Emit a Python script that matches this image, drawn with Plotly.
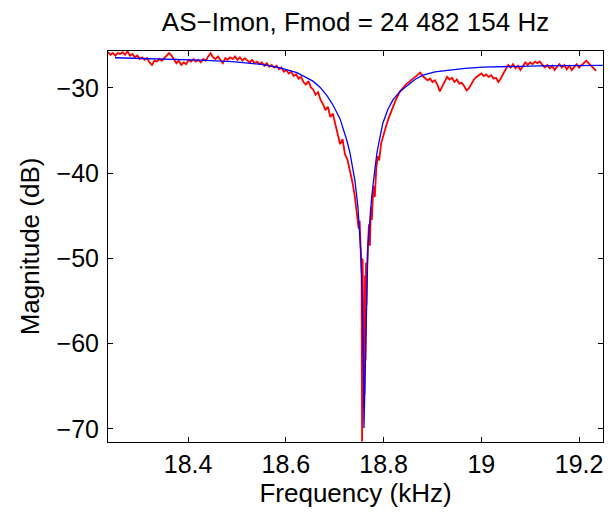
import plotly.graph_objects as go

# Measured response (red), frequency in kHz, magnitude in dB
red_freq = [
    18.236, 18.241, 18.246, 18.251, 18.256, 18.261, 18.266, 18.271, 18.276, 18.281,
    18.286, 18.291, 18.296, 18.301, 18.306, 18.311, 18.316, 18.321, 18.326, 18.331,
    18.336, 18.341, 18.346, 18.351, 18.356, 18.361, 18.366, 18.371, 18.376, 18.381,
    18.386, 18.391, 18.396, 18.401, 18.406, 18.411, 18.416, 18.421, 18.426, 18.431,
    18.436, 18.441, 18.446, 18.451, 18.456, 18.461, 18.466, 18.471, 18.476, 18.481,
    18.486, 18.491, 18.496, 18.501, 18.506, 18.511, 18.516, 18.521, 18.526, 18.531,
    18.536, 18.541, 18.546, 18.551, 18.556, 18.561, 18.566, 18.571, 18.576, 18.581,
    18.586, 18.591, 18.596, 18.601, 18.606, 18.611, 18.616, 18.621, 18.626, 18.631,
    18.636, 18.641, 18.646, 18.651, 18.656, 18.661, 18.666, 18.671, 18.676, 18.681,
    18.686, 18.691, 18.696, 18.701, 18.706, 18.711, 18.716, 18.721, 18.726, 18.731,
    18.736, 18.741, 18.746, 18.749, 18.751, 18.753, 18.755, 18.756, 18.757, 18.758,
    18.759, 18.760, 18.761, 18.762, 18.763, 18.764, 18.765, 18.766, 18.768, 18.770,
    18.772, 18.774, 18.776, 18.779, 18.782, 18.785, 18.788, 18.791, 18.795, 18.800,
    18.805, 18.810, 18.815, 18.820, 18.825, 18.830, 18.835, 18.840, 18.845, 18.850,
    18.855, 18.860, 18.865, 18.870, 18.875, 18.880, 18.885, 18.890, 18.895, 18.900,
    18.905, 18.910, 18.915, 18.920, 18.925, 18.930, 18.935, 18.940, 18.945, 18.950,
    18.955, 18.960, 18.965, 18.970, 18.975, 18.980, 18.985, 18.990, 18.995, 19.000,
    19.005, 19.010, 19.015, 19.020, 19.025, 19.030, 19.035, 19.040, 19.045, 19.050,
    19.055, 19.060, 19.065, 19.070, 19.075, 19.080, 19.085, 19.090, 19.095, 19.100,
    19.105, 19.110, 19.115, 19.120, 19.125, 19.130, 19.135, 19.140, 19.145, 19.150,
    19.155, 19.160, 19.165, 19.170, 19.175, 19.180, 19.185, 19.190, 19.195, 19.200,
    19.205, 19.210, 19.215, 19.220, 19.225, 19.230, 19.235,
]
red_mag = [
    -25.8, -26.1, -25.9, -26.2, -25.9, -26.0, -25.8, -26.1, -25.7, -26.2,
    -26.0, -26.4, -26.2, -26.6, -26.4, -26.7, -26.5, -27.0, -27.3, -26.8,
    -26.9, -26.6, -26.8, -26.5, -26.1, -25.9, -26.2, -26.7, -27.1, -26.8,
    -27.3, -27.0, -27.2, -26.7, -26.9, -26.6, -26.9, -26.7, -27.0, -26.6,
    -26.8, -26.3, -25.9, -26.4, -26.6, -26.3, -26.7, -27.1, -26.5, -26.7,
    -26.4, -26.6, -26.3, -26.7, -26.4, -26.8, -26.5, -26.8, -27.0, -26.7,
    -27.1, -26.9, -27.2, -27.0, -27.4, -27.1, -27.5, -27.3, -27.6, -27.4,
    -27.8, -27.6, -28.1, -27.9, -28.3, -28.1, -28.6, -28.4, -28.9, -28.7,
    -29.3, -29.6, -29.2, -29.9, -30.2, -30.8, -30.5, -31.4, -31.9, -32.6,
    -32.2, -33.4, -33.0, -34.2, -35.3, -36.6, -36.0, -37.8, -38.4, -39.6,
    -41.0, -42.7, -44.8, -46.5, -45.6, -48.5, -52.0, -71.5, -50.0, -55.0,
    -67.5, -60.0, -66.0, -52.0, -62.0, -50.5, -55.5, -51.0, -49.0, -46.0,
    -48.5, -44.0, -45.5, -41.5, -42.8, -39.5, -38.0, -38.5, -36.5, -35.4,
    -34.5, -33.6, -32.8, -32.0, -31.4, -30.8, -30.3, -30.0, -29.6, -29.4,
    -29.1, -28.9, -28.7, -28.5, -28.2, -28.6, -28.9, -29.1, -28.9, -29.3,
    -29.1, -29.6, -30.4, -29.8, -29.1, -28.7, -29.0, -28.8, -29.3, -29.0,
    -29.5, -29.4, -29.8, -30.3, -30.0, -29.4, -29.0, -28.7, -28.5, -28.3,
    -28.6, -28.4, -28.7, -28.5, -28.9, -28.8, -29.3, -28.9, -28.3, -27.8,
    -27.3, -27.6, -27.2, -27.7, -27.4, -27.9, -27.5, -27.0, -27.3, -27.0,
    -27.2, -26.9, -27.1, -26.9, -27.3, -27.6, -27.3, -27.7, -27.4, -27.9,
    -27.5, -27.2, -27.6, -27.3, -27.8, -27.4, -27.9, -27.5, -27.2, -27.6,
    -27.3, -27.0, -26.8, -27.1, -27.4, -27.7, -28.0,
]

# Fitted model (blue)
fit_freq = [
    18.2503, 18.3219, 18.3731, 18.4242, 18.4897, 18.5531, 18.5879, 18.6227, 18.6554, 18.6698,
    18.6841, 18.6964, 18.7107, 18.7168, 18.7250, 18.7311, 18.7373, 18.7414, 18.7475, 18.7516,
    18.7536, 18.7557, 18.7577, 18.7592, 18.7598, 18.7608, 18.7618, 18.7639, 18.7659, 18.7680,
    18.7707, 18.7756, 18.7823, 18.7864, 18.7925, 18.7986, 18.8089, 18.8191, 18.8334, 18.8478,
    18.8642, 18.8806, 18.9051, 18.9358, 18.9665, 19.0033, 19.0586, 19.1199, 19.1813, 19.2488,
]
fit_mag = [
    -26.45, -26.55, -26.65, -26.72, -26.90, -27.25, -27.65, -28.20, -29.20, -29.90,
    -30.90, -32.00, -33.60, -34.60, -36.20, -37.60, -39.50, -40.90, -44.00, -47.00,
    -49.50, -53.00, -58.00, -64.00, -69.90, -67.00, -63.00, -56.50, -51.50, -48.50,
    -46.50, -42.80, -39.50, -37.60, -35.80, -34.10, -32.50, -31.40, -30.40, -29.70,
    -29.00, -28.50, -28.10, -27.90, -27.70, -27.55, -27.45, -27.40, -27.38, -27.35,
]

x_tickvals = [18.4, 18.6, 18.8, 19.0, 19.2]
x_ticktext = ["18.4", "18.6", "18.8", "19", "19.2"]
y_tickvals = [-70, -60, -50, -40, -30]

title_text = "AS\u2212Imon, Fmod = 24 482 154 Hz"
FONT = "Liberation Sans, Arial, Helvetica, sans-serif"

fig = go.Figure()
fig.add_trace(go.Scatter(x=red_freq, y=red_mag, mode="lines",
                         line=dict(color="rgb(255,0,0)", width=1.8), showlegend=False))
fig.add_trace(go.Scatter(x=fit_freq, y=fit_mag, mode="lines",
                         line=dict(color="rgb(0,0,255)", width=1.3), showlegend=False))

axis_common = dict(
    showline=True, linecolor="black", linewidth=1, mirror="ticks",
    ticks="inside", ticklen=5, tickcolor="black", tickwidth=1,
    showgrid=False, zeroline=False,
    tickfont=dict(family=FONT, size=25, color="black"),
)

fig.update_layout(
    width=616, height=512,
    margin=dict(l=108, r=13, t=51, b=70),
    paper_bgcolor="white", plot_bgcolor="white",
    font=dict(family=FONT, size=25, color="black"),
    title=dict(text=title_text, x=0.5, xref="paper", y=0.958, yref="container",
               yanchor="middle", xanchor="center",
               font=dict(family=FONT, size=26, color="black")),
    xaxis=dict(range=[18.236, 19.249], tickvals=x_tickvals, ticktext=x_ticktext,
               title=dict(text="Frequency (kHz)", standoff=4,
                          font=dict(family=FONT, size=26, color="black")),
               **axis_common),
    yaxis=dict(range=[-71.55, -25.66], tickvals=y_tickvals, ticklabelstandoff=3,
               title=dict(text="Magnitude (dB)", standoff=9,
                          font=dict(family=FONT, size=26, color="black")),
               **axis_common),
)

fig.write_html("out.html")
